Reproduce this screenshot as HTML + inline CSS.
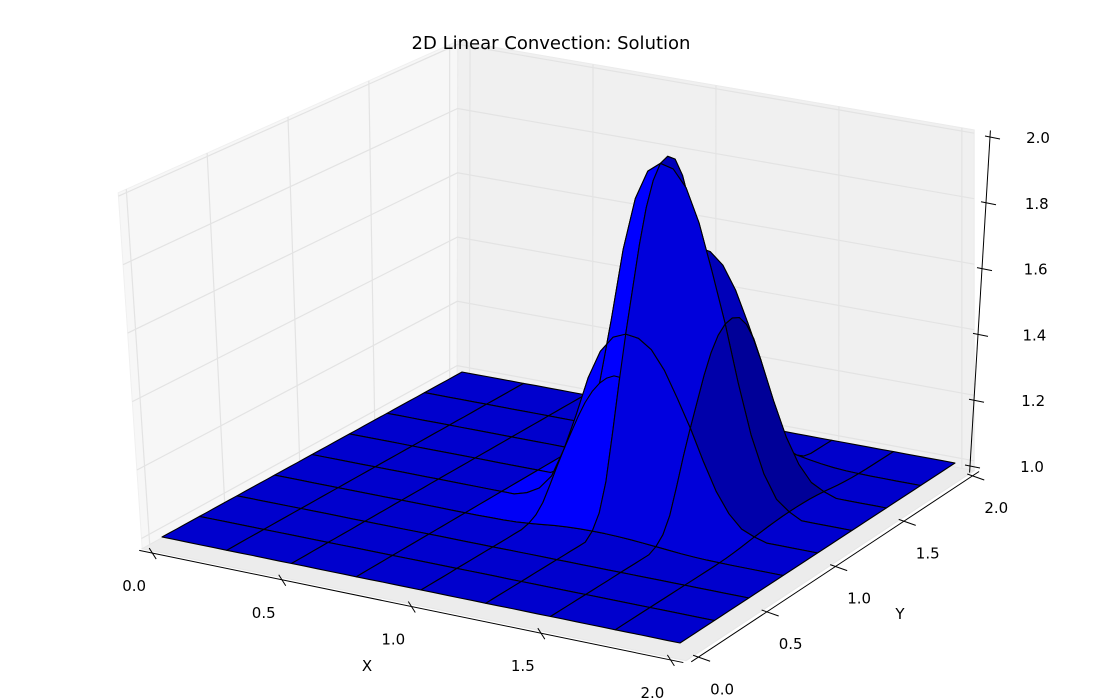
<!DOCTYPE html>
<html><head><meta charset="utf-8"><style>
html,body{margin:0;padding:0;background:#fff;}
svg{display:block;font-family:"DejaVu Sans","Liberation Sans",sans-serif;}
</style></head><body>
<svg id="chart" width="1100" height="699" viewBox="0 0 1100 699" xmlns="http://www.w3.org/2000/svg">
<rect width="1100" height="699" fill="#fff"/>
<g id="panes"></g>
<g id="surf"></g>
<g id="axes"></g>
<text x="551" y="49" font-size="18" text-anchor="middle" fill="#000">2D Linear Convection: Solution</text>
</svg>
<script>
// grid coordinates 0..2 step 0.05 (41 points)
const profileX = [0,0,0,0,0,0,0,0,0,0,0,0,0,0,0,0,0,0.02,0.06,0.14,0.30,0.50,0.72,0.88,0.97,1.0,0.99,0.94,0.84,0.70,0.55,0.38,0.23,0.12,0.05,0.02,0,0,0,0,0];
const profileY = [0,0,0,0,0,0,0,0,0,0,0,0,0,0,0,0.02,0.06,0.14,0.27,0.41,0.54,0.66,0.78,0.88,0.95,0.99,1.0,0.98,0.92,0.82,0.68,0.50,0.33,0.19,0.09,0.04,0.01,0,0,0,0];
const xTicks = ["0.0","0.5","1.0","1.5","2.0"];
const yTicks = ["0.0","0.5","1.0","1.5","2.0"];
const zTicks = ["1.0","1.2","1.4","1.6","1.8","2.0"];
const baseZ = 1.0;

const NS = "http://www.w3.org/2000/svg";
const A=[162,537],B=[680,643],C=[955,463],D=[462,372];
const ZA=342,ZB=352,ZC=328,ZD=322;
function proj(x,y,z){
  const u=x/2,v=y/2;
  const a=(1-u)*(1-v),b=u*(1-v),c=u*v,d=(1-u)*v;
  const zs=a*ZA+b*ZB+c*ZC+d*ZD;
  const lean=(z-1)*(1-u)*(1-v)*(-22);
  return [a*A[0]+b*B[0]+c*C[0]+d*D[0]+lean, a*A[1]+b*B[1]+c*C[1]+d*D[1]-(z-1)*zs];
}
function mk(tag,attrs,parent){const e=document.createElementNS(NS,tag);for(const k in attrs)e.setAttribute(k,attrs[k]);parent.appendChild(e);return e;}
function pts(list){return list.map(p=>p[0].toFixed(1)+","+p[1].toFixed(1)).join(" ");}

const xmin=-0.05,xmax=2.05,ymin=-0.05,ymax=2.05,zmin=0.97,zmax=2.01;
const panes=document.getElementById('panes');
let e;
e=mk('polygon',{points:pts([proj(xmin,ymin,zmin),proj(xmin,ymax,zmin),proj(xmin,ymax,zmax),proj(xmin,ymin,zmax)]),fill:'#f7f7f7',stroke:'#f0f0f0'},panes);


e=mk('polygon',{points:pts([proj(xmin,ymax,zmin),proj(xmax,ymax,zmin),proj(xmax,ymax,zmax),proj(xmin,ymax,zmax)]),fill:'#f0f0f0',stroke:'#ebebeb'},panes);


e=mk('polygon',{points:pts([proj(xmin,ymin,zmin),proj(xmax,ymin,zmin),proj(xmax,ymax,zmin),proj(xmin,ymax,zmin)]),fill:'#ececec',stroke:'#e6e6e6'},panes);


zTicks.forEach(t=>{const z=+t;
  e=mk('polyline',{points:pts([proj(xmin,ymin,z),proj(xmin,ymax,z),proj(xmax,ymax,z)]),fill:'none',stroke:'#e3e3e3','stroke-width':1.2},panes);
  
  
});
yTicks.forEach(t=>{const y=+t;
  e=mk('line',{x1:proj(xmin,y,zmin)[0],y1:proj(xmin,y,zmin)[1],x2:proj(xmin,y,zmax)[0],y2:proj(xmin,y,zmax)[1],stroke:'#e3e3e3','stroke-width':1.2},panes);
  
  
});
xTicks.forEach(t=>{const x=+t;
  e=mk('line',{x1:proj(x,ymax,zmin)[0],y1:proj(x,ymax,zmin)[1],x2:proj(x,ymax,zmax)[0],y2:proj(x,ymax,zmax)[1],stroke:'#e3e3e3','stroke-width':1.2},panes);
  
  
});

// surface
const N=profileX.length, step=2/(N-1), stride=5;
function Z(i,j){return baseZ+profileX[i]*profileY[j];}
const polys=[];
for(let bi=0;bi<N-1;bi+=stride){
  for(let bj=0;bj<N-1;bj+=stride){
    const ring=[];
    for(let i=bi;i<=bi+stride;i++) ring.push([i,bj]);
    for(let j=bj+1;j<=bj+stride;j++) ring.push([bi+stride,j]);
    for(let i=bi+stride-1;i>=bi;i--) ring.push([i,bj+stride]);
    for(let j=bj+stride-1;j>bj;j--) ring.push([bi,j]);
    const c00=Z(bi,bj)-1,c10=Z(bi+stride,bj)-1,c11=Z(bi+stride,bj+stride)-1,c01=Z(bi,bj+stride)-1;
    const d=stride*step/2;
    const dzx=((c10+c11)-(c00+c01))/2/d, dzy=((c01+c11)-(c00+c10))/2/d;
    let nx=-dzx,ny=-dzy,nz=1;const L=Math.hypot(nx,ny,nz);nx/=L;ny/=L;
    let bl=205-300*Math.max(0,nx-0.78)-20*ny+65*Math.max(0,-nx);
    bl=Math.max(70,Math.min(255,Math.round(bl)));
    let depth=0;
    ring.forEach(([i,j])=>{const x=i*step,y=j*step;depth+=(x/2-y/2)*0.61+(Z(i,j)-1)*0.5;});
    depth/=ring.length;
    polys.push({ring,bl,depth});
  }
}
polys.sort((a,b)=>a.depth-b.depth);
const surf=document.getElementById('surf');
polys.forEach(p=>{
  const P=p.ring.map(([i,j])=>proj(i*step,j*step,Z(i,j)));
  const el=mk('polygon',{points:pts(P),fill:'rgb(0,0,'+p.bl+')',stroke:'#000','stroke-width':1.1,'stroke-linejoin':'round'},surf);
  
  
});

// axes
const ax=document.getElementById('axes');
function line(p,q,name){const l=mk('line',{x1:p[0],y1:p[1],x2:q[0],y2:q[1],stroke:'#000','stroke-width':1},ax);return l;}
function text(x,y,s,name,anchor){const t=mk('text',{x:x,y:y,'font-size':15,'text-anchor':anchor||'middle',fill:'#000'},ax);t.textContent=s;return t;}
line(proj(xmin,ymin-0.02,zmin),proj(xmax,ymin-0.02,zmin),'x-axis-line');
xTicks.forEach(t=>{const x=+t;const p=proj(x,ymin-0.02,zmin);
  line([p[0]-3,p[1]-5],[p[0]+4,p[1]+6],'x-tick');
  text(p[0]-18,p[1]+38,t,'x-tick-label');
});
text(367,671,'X','x-axis-title');
line(proj(xmax+0.02,ymin,zmin),proj(xmax+0.02,ymax,zmin),'y-axis-line');
yTicks.forEach(t=>{const y=+t;const p=proj(xmax+0.02,y,zmin);
  line([p[0]-5,p[1]-2],[p[0]+12,p[1]+4],'y-tick');
  text(p[0]+24,p[1]+37,t,'y-tick-label');
});
text(900,619,'Y','y-axis-title');
const zb=[970,466], zt=[990,137];
function zpt(z){const f=(z-1);return [zb[0]+f*(zt[0]-zb[0]),zb[1]+f*(zt[1]-zb[1])];}
line(zpt(0.98),zpt(2.02),'z-axis-line');
zTicks.forEach(t=>{const z=+t;const p=zpt(z);
  line([p[0]-5,p[1]-1],[p[0]+10,p[1]+2],'z-tick');
  text(p[0]+62-14*(+t-1),p[1]+6,t,'z-tick-label','middle');
});
</script>
</body></html>
